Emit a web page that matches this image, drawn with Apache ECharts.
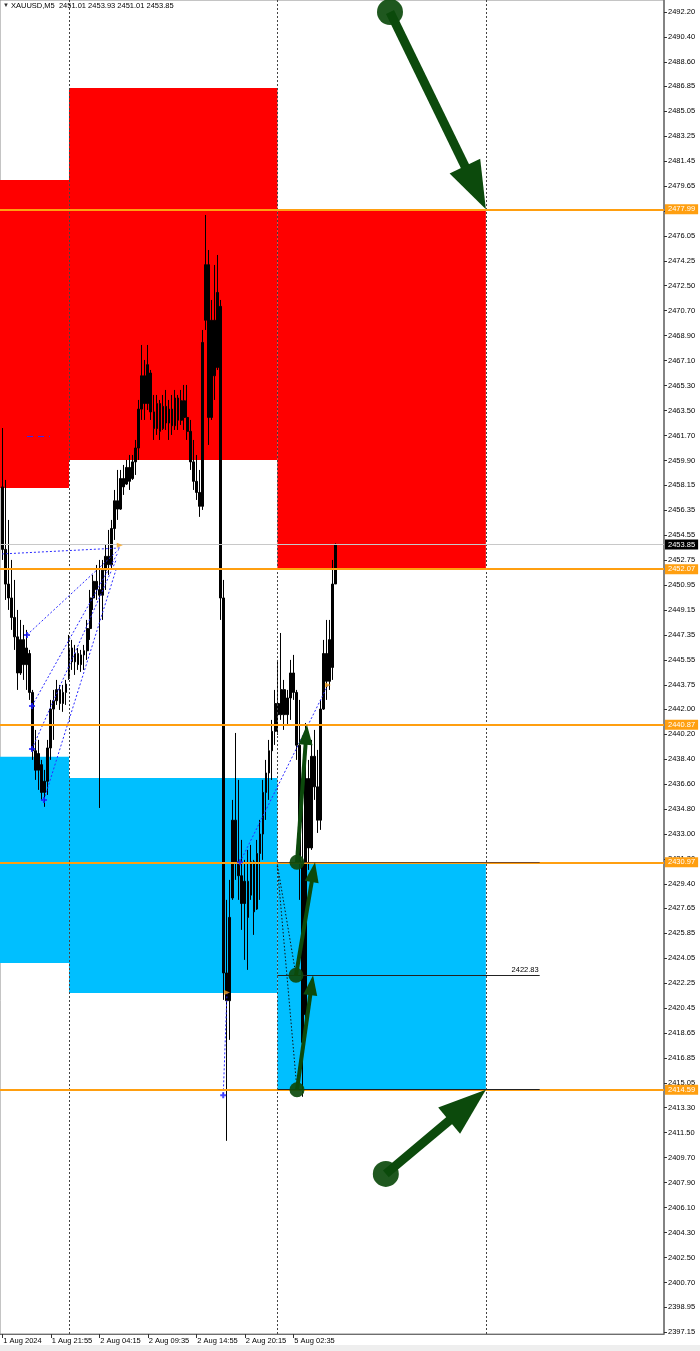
<!DOCTYPE html>
<html><head><meta charset="utf-8">
<script src="https://cdn.jsdelivr.net/npm/echarts@6/dist/echarts.min.js"></script>
<style>html,body{margin:0;padding:0;background:#fff}#c{width:700px;height:1351px}</style>
</head><body><div id="c"></div>
<script>
// ---------------- DATA ----------------
const timeTicks = [0, 64, 128, 192, 256, 320, 384];
const timeLabels = ['1 Aug 2024', '1 Aug 21:55', '2 Aug 04:15', '2 Aug 09:35', '2 Aug 14:55', '2 Aug 20:15', '5 Aug 02:35'];
const priceTicks = [2492.20,2490.40,2488.60,2486.85,2485.05,2483.25,2481.45,2479.65,2477.85,2476.05,2474.25,2472.50,2470.70,2468.90,2467.10,2465.30,2463.50,2461.70,2459.90,2458.15,2456.35,2454.55,2452.75,2450.95,2449.15,2447.35,2445.55,2443.75,2442.00,2440.20,2438.40,2436.60,2434.80,2433.00,2431.20,2429.40,2427.65,2425.85,2424.05,2422.25,2420.45,2418.65,2416.85,2415.05,2413.30,2411.50,2409.70,2407.90,2406.10,2404.30,2402.50,2400.70,2398.95,2397.15];
const BAR_STEP = 4; // each drawn bar spans 4 five-minute bars

const opens = [2458.0,2453.5,2451.0,2450.0,2448.6,2447.2,2444.6,2447.0,2445.2,2446.0,
2443.2,2439.0,2437.6,2438.0,2436.0,2436.8,2439.2,2442.0,2442.6,2443.4,
2442.4,2443.2,2444.2,2446.4,2445.4,2446.0,2445.2,2445.9,2446.2,2447.8,
2450.0,2451.2,2450.6,2450.2,2452.0,2453.0,2452.4,2455.0,2457.0,2456.4,
2458.6,2458.2,2459.4,2458.6,2459.8,2460.8,2463.6,2466.0,2464.0,2466.2,
2463.4,2462.2,2464.0,2462.2,2463.8,2462.6,2463.6,2462.4,2464.4,2462.8,
2464.2,2463.0,2462.0,2459.8,2458.4,2457.6,2456.6,2470.0,2474.0,2463.0,
2470.0,2466.6,2471.0,2450.0,2423.0,2421.0,2428.4,2434.0,2431.0,2430.0,
2428.0,2429.6,2428.6,2431.0,2427.6,2431.6,2433.0,2436.0,2437.4,2439.0,
2440.4,2442.4,2441.6,2443.4,2441.6,2442.8,2444.6,2443.2,2439.4,2431.0,
2420.0,2437.0,2432.0,2438.6,2436.4,2434.0,2442.0,2446.0,2444.0,2445.0,
2451.01];
const closes = [2453.5,2451.0,2450.0,2448.6,2447.2,2444.6,2447.0,2445.2,2446.4,2443.2,
2439.0,2437.6,2438.8,2436.0,2436.8,2439.2,2442.0,2442.6,2443.4,2442.4,
2443.2,2443.8,2446.4,2445.4,2446.0,2445.2,2445.9,2446.2,2447.8,2450.0,
2451.2,2450.6,2450.2,2452.0,2453.0,2452.4,2455.0,2457.0,2456.4,2458.6,
2458.0,2459.4,2458.4,2459.8,2460.8,2463.6,2466.0,2464.0,2466.8,2463.4,
2462.2,2464.0,2462.0,2463.8,2462.6,2463.6,2462.4,2464.4,2462.8,2464.2,
2463.0,2462.0,2459.8,2458.4,2457.6,2456.6,2468.4,2474.0,2463.0,2470.0,
2466.0,2472.0,2450.0,2423.0,2421.0,2427.0,2434.0,2431.0,2430.0,2428.0,
2429.6,2427.0,2431.0,2427.4,2431.6,2433.0,2436.0,2437.4,2439.0,2440.4,
2442.4,2441.6,2443.4,2441.6,2442.8,2444.6,2443.2,2439.4,2431.0,2418.0,
2437.0,2432.0,2438.6,2436.4,2434.0,2442.0,2446.0,2444.0,2447.0,2451.0,
2453.85];
const highs = [2462.24,2458.50,2455.62,2452.74,2451.30,2449.14,2448.42,2448.06,2447.70,2446.26,
2443.38,2440.50,2439.78,2438.34,2437.62,2439.78,2442.66,2443.38,2444.10,2443.74,
2443.74,2444.10,2447.34,2446.98,2446.62,2446.40,2446.26,2446.62,2448.42,2450.58,
2451.66,2452.38,2452.74,2452.74,2453.82,2454.90,2455.62,2457.78,2459.22,2459.22,
2459.58,2459.94,2460.30,2460.30,2461.38,2464.26,2468.22,2467.14,2468.22,2466.42,
2464.62,2464.62,2464.26,2464.62,2464.98,2464.26,2464.62,2464.98,2464.62,2464.98,
2465.34,2465.34,2462.82,2461.38,2460.30,2459.22,2469.30,2477.58,2475.06,2471.46,
2473.98,2474.70,2471.46,2451.30,2428.26,2429.70,2435.46,2440.28,2436.90,2432.58,
2431.14,2431.86,2432.22,2431.14,2432.58,2434.02,2436.90,2438.34,2439.78,2441.22,
2443.38,2445.54,2447.48,2444.10,2443.38,2445.54,2445.90,2443.38,2442.66,2436.90,
2441.00,2438.34,2439.78,2440.50,2439.06,2442.66,2446.98,2448.42,2448.42,2452.74,
2453.93];
const lows = [2452.74,2449.86,2449.14,2447.70,2446.26,2443.38,2444.46,2444.10,2443.38,2442.66,
2438.34,2436.90,2436.18,2435.46,2434.96,2435.82,2438.34,2439.78,2442.30,2441.94,
2441.80,2442.30,2444.10,2444.82,2444.46,2444.82,2444.68,2444.82,2445.54,2446.98,
2449.14,2449.86,2434.88,2448.42,2450.58,2451.66,2452.02,2454.18,2455.62,2456.34,
2457.42,2458.14,2457.78,2458.50,2458.86,2459.94,2462.82,2462.82,2463.54,2462.82,
2461.38,2461.74,2461.38,2462.10,2462.10,2461.38,2461.74,2462.10,2462.10,2462.46,
2462.10,2461.38,2459.22,2457.78,2457.06,2455.84,2456.34,2469.30,2461.02,2462.82,
2464.26,2466.42,2448.42,2421.06,2410.91,2418.18,2428.26,2429.70,2428.26,2426.10,
2423.94,2423.22,2428.26,2425.74,2427.54,2428.26,2431.14,2434.02,2435.46,2436.90,
2439.42,2440.14,2441.22,2440.50,2440.86,2441.22,2442.66,2438.34,2428.26,2414.08,
2419.62,2430.42,2431.86,2435.46,2433.08,2433.30,2441.94,2442.66,2443.38,2444.10,
2451.01];

// zones: [fromBar, toBar, topPrice, bottomPrice]
const redZones = [[-3, 88, 2480.10, 2457.92], [88, 363, 2486.72, 2459.94], [363, 638, 2477.99, 2452.07]];
const blueZones = [[-3, 88, 2438.56, 2423.72], [88, 363, 2437.04, 2421.56], [363, 638, 2430.97, 2414.59]];
const levelPrices = [2477.99, 2452.07, 2440.87, 2430.97, 2414.59];
const bidPrice = 2453.85;
const separatorBars = [88, 363, 638];
const shortLinePrices = [2430.97, 2422.83, 2414.59];
const shortLineRange = [363, 709];
const shortLineLabel = '2422.83';
// arrows: [tailBar, tailPrice, tipBar, tipPrice]
const arrows = [
  [511.5, 2492.20, 638, 2477.99],
  [506, 2408.53, 638, 2414.59],
  [388.8, 2430.97, 402, 2440.87],
  [387.5, 2422.83, 412.6, 2430.97],
  [388.8, 2414.59, 410, 2422.83]
];
// trade history dotted lines: [[bar, price], [bar, price]]
const tradeLines = [
  [[-0.4, 2453.17], [155, 2453.60]],
  [[32.6, 2447.34], [154, 2453.50]],
  [[39.2, 2442.23], [152, 2453.20]],
  [[39.2, 2439.13], [150, 2452.70]],
  [[55, 2435.46], [151, 2452.20]],
  [[313.6, 2430.97], [429.7, 2443.74]],
  [[296.5, 2421.60], [291.5, 2414.20]]
];
const bluePlusMarks = [[32.6, 2447.34], [39.2, 2442.23], [39.2, 2439.13], [55, 2435.46], [291.5, 2414.20], [313.6, 2430.97]];
const orangeMarks = [[155, 2453.80], [296.5, 2421.60], [429.7, 2443.74]];
const blueDash = [[32.6, 2461.67], [63, 2461.67]];
const blackDotted = [
  [[362.4, 2430.97], [388.8, 2414.59]],
  [[362.4, 2430.97], [387.5, 2422.83]]
];
const headerText = 'XAUUSD,M5  2451.01 2453.93 2451.01 2453.85';

// ---------------- STYLE ----------------
const ORANGE = '#FF9F10';
const GREEN = '#0C4A0C';
const arrowKinds = ['big', 'big', 'small', 'small', 'small'];
const arrowSizes = {
  big: { shaft: 9, head: 48, half: 17, r: 13 },
  small: { shaft: 4, head: 20, half: 7, r: 7.5 }
};
const FONT = 'Liberation Sans';

const candleData = opens.map((o, k) => [k * BAR_STEP, o, closes[k], lows[k], highs[k]]);

const chart = echarts.init(document.getElementById('c'), null, { renderer: 'canvas' });

const zoneArea = (zones, color) => zones.map(z => [
  { coord: [z[0], z[2]], itemStyle: { color: color, opacity: 1 } },
  { coord: [z[1], z[3]] }
]);

const option = {
  animation: false,
  backgroundColor: '#fff',
  grid: { left: 0, right: 36, top: 0, bottom: 17, show: true, borderColor: '#8a8a8a', borderWidth: 1 },
  xAxis: {
    type: 'value', min: -3, max: 873,
    splitLine: { show: false },
    axisLine: { show: true, onZero: false, lineStyle: { color: '#6e6e6e', width: 1 } },
    axisTick: { show: true, length: 4, customValues: timeTicks, lineStyle: { color: '#333' } },
    axisLabel: {
      customValues: timeTicks, align: 'left', margin: 3, padding: [0, 0, 0, 1],
      fontFamily: FONT, fontSize: 7.5, color: '#000',
      formatter: v => { const i = timeTicks.indexOf(v); return i >= 0 ? timeLabels[i] : ''; }
    }
  },
  yAxis: {
    type: 'value', position: 'right', min: 2397.0, max: 2493.06, scale: true,
    splitLine: { show: false },
    axisLine: { show: true, onZero: false, lineStyle: { color: '#6e6e6e', width: 1.5 } },
    axisTick: { show: true, length: 3, customValues: priceTicks, lineStyle: { color: '#333' } },
    axisLabel: {
      customValues: priceTicks, margin: 4,
      fontFamily: FONT, fontSize: 7.5, color: '#000',
      formatter: v => v.toFixed(2)
    }
  },
  graphic: [
    { type: 'text', left: 3, top: 2, z: 100, style: { text: '▼', font: '6px ' + FONT, fill: '#333' } },
    { type: 'text', left: 11, top: 2, z: 100, style: { text: headerText, font: '7.5px ' + FONT, fill: '#000' } },
    { type: 'rect', left: 0, top: 1345, z: 100, shape: { width: 700, height: 6 }, style: { fill: '#EEEEEE' } }
  ],
  series: [
    {
      name: 'zones', type: 'line', data: [], z: 1, silent: true,
      markArea: { silent: true, data: zoneArea(redZones, '#FF0000').concat(zoneArea(blueZones, '#00BFFF')) }
    },
    {
      name: 'separators', type: 'line', data: [], z: 2, silent: true,
      markLine: {
        silent: true, symbol: 'none', label: { show: false },
        lineStyle: { color: '#444', width: 1, type: [2, 2] },
        data: separatorBars.map(b => ({ xAxis: b }))
      }
    },
    {
      name: 'price', type: 'candlestick', z: 3, barWidth: 2.2,
      encode: { x: 0, y: [1, 2, 3, 4] },
      data: candleData,
      itemStyle: { color: '#000', color0: '#000', borderColor: '#000', borderColor0: '#000', borderWidth: 1 }
    },
    {
      name: 'trades', type: 'line', data: [], z: 4, silent: true,
      markLine: {
        silent: true, symbol: 'none', label: { show: false },
        data: tradeLines.map(l => [
          { coord: l[0], lineStyle: { color: '#2B2BFF', width: 1, type: [2, 2] } },
          { coord: l[1] }
        ]).concat(blackDotted.map(l => [
          { coord: l[0], lineStyle: { color: '#111', width: 1, type: [1.5, 2] } },
          { coord: l[1] }
        ])).concat([[
          { coord: blueDash[0], lineStyle: { color: '#2B2BFF', width: 1, type: [6, 5] } },
          { coord: blueDash[1] }
        ]])
      }
    },
    {
      name: 'levels', type: 'line', data: [], z: 5, silent: true,
      markLine: {
        silent: true, symbol: 'none',
        data: [
          {
            yAxis: bidPrice,
            lineStyle: { color: '#C8C8C8', width: 1, type: 'solid' },
            label: { show: true, position: 'end', distance: 1, formatter: bidPrice.toFixed(2), backgroundColor: '#000', color: '#fff', fontFamily: FONT, fontSize: 7.5, padding: [1, 3, 1, 3] }
          }
        ].concat(levelPrices.map(p => ({
          yAxis: p,
          lineStyle: { color: ORANGE, width: 1.8, type: 'solid' },
          label: { show: true, position: 'end', distance: 1, formatter: p.toFixed(2), backgroundColor: ORANGE, color: '#fff', fontFamily: FONT, fontSize: 7.5, padding: [1, 3, 1, 3] }
        }))).concat(shortLinePrices.map((p, i) => [
          {
            coord: [shortLineRange[0], p],
            lineStyle: { color: i === 0 ? '#7a4a22' : '#222', width: 1, type: 'solid' },
            label: p.toFixed(2) === shortLineLabel
              ? { show: true, position: 'insideEndTop', distance: 1, formatter: shortLineLabel, color: '#000', fontFamily: FONT, fontSize: 7.5 }
              : { show: false }
          },
          { coord: [shortLineRange[1], p] }
        ]))
      }
    },
    {
      name: 'plusMarks', type: 'scatter', z: 6, silent: true,
      symbol: 'path://M2,0H4V2H6V4H4V6H2V4H0V2H2Z', symbolSize: 6,
      itemStyle: { color: '#1a1aff' },
      data: bluePlusMarks
    },
    {
      name: 'triMarks', type: 'scatter', z: 6, silent: true,
      symbol: 'triangle', symbolSize: [5, 6], symbolRotate: -90,
      itemStyle: { color: '#F7A21B' },
      data: orangeMarks
    },
    {
      name: 'arrows', type: 'custom', z: 10, clip: false, silent: true,
      encode: { x: [0, 2], y: [1, 3] },
      data: arrows,
      renderItem: function (params, api) {
        const s = arrowSizes[arrowKinds[params.dataIndex]];
        const p0 = api.coord([api.value(0), api.value(1)]);
        const p1 = api.coord([api.value(2), api.value(3)]);
        const dx = p1[0] - p0[0], dy = p1[1] - p0[1];
        const len = Math.hypot(dx, dy);
        const ux = dx / len, uy = dy / len, nx = -uy, ny = ux;
        const bx = p1[0] - ux * s.head, by = p1[1] - uy * s.head;
        return {
          type: 'group',
          children: [
            { type: 'line', shape: { x1: p0[0], y1: p0[1], x2: bx + ux * 3, y2: by + uy * 3 }, style: { stroke: GREEN, lineWidth: s.shaft } },
            { type: 'polygon', shape: { points: [[p1[0], p1[1]], [bx + nx * s.half, by + ny * s.half], [bx - nx * s.half, by - ny * s.half]] }, style: { fill: GREEN } },
            { type: 'circle', shape: { cx: p0[0], cy: p0[1], r: s.r }, style: { fill: GREEN, opacity: 0.92 } }
          ]
        };
      }
    }
  ]
};
chart.setOption(option);
</script>
</body></html>
